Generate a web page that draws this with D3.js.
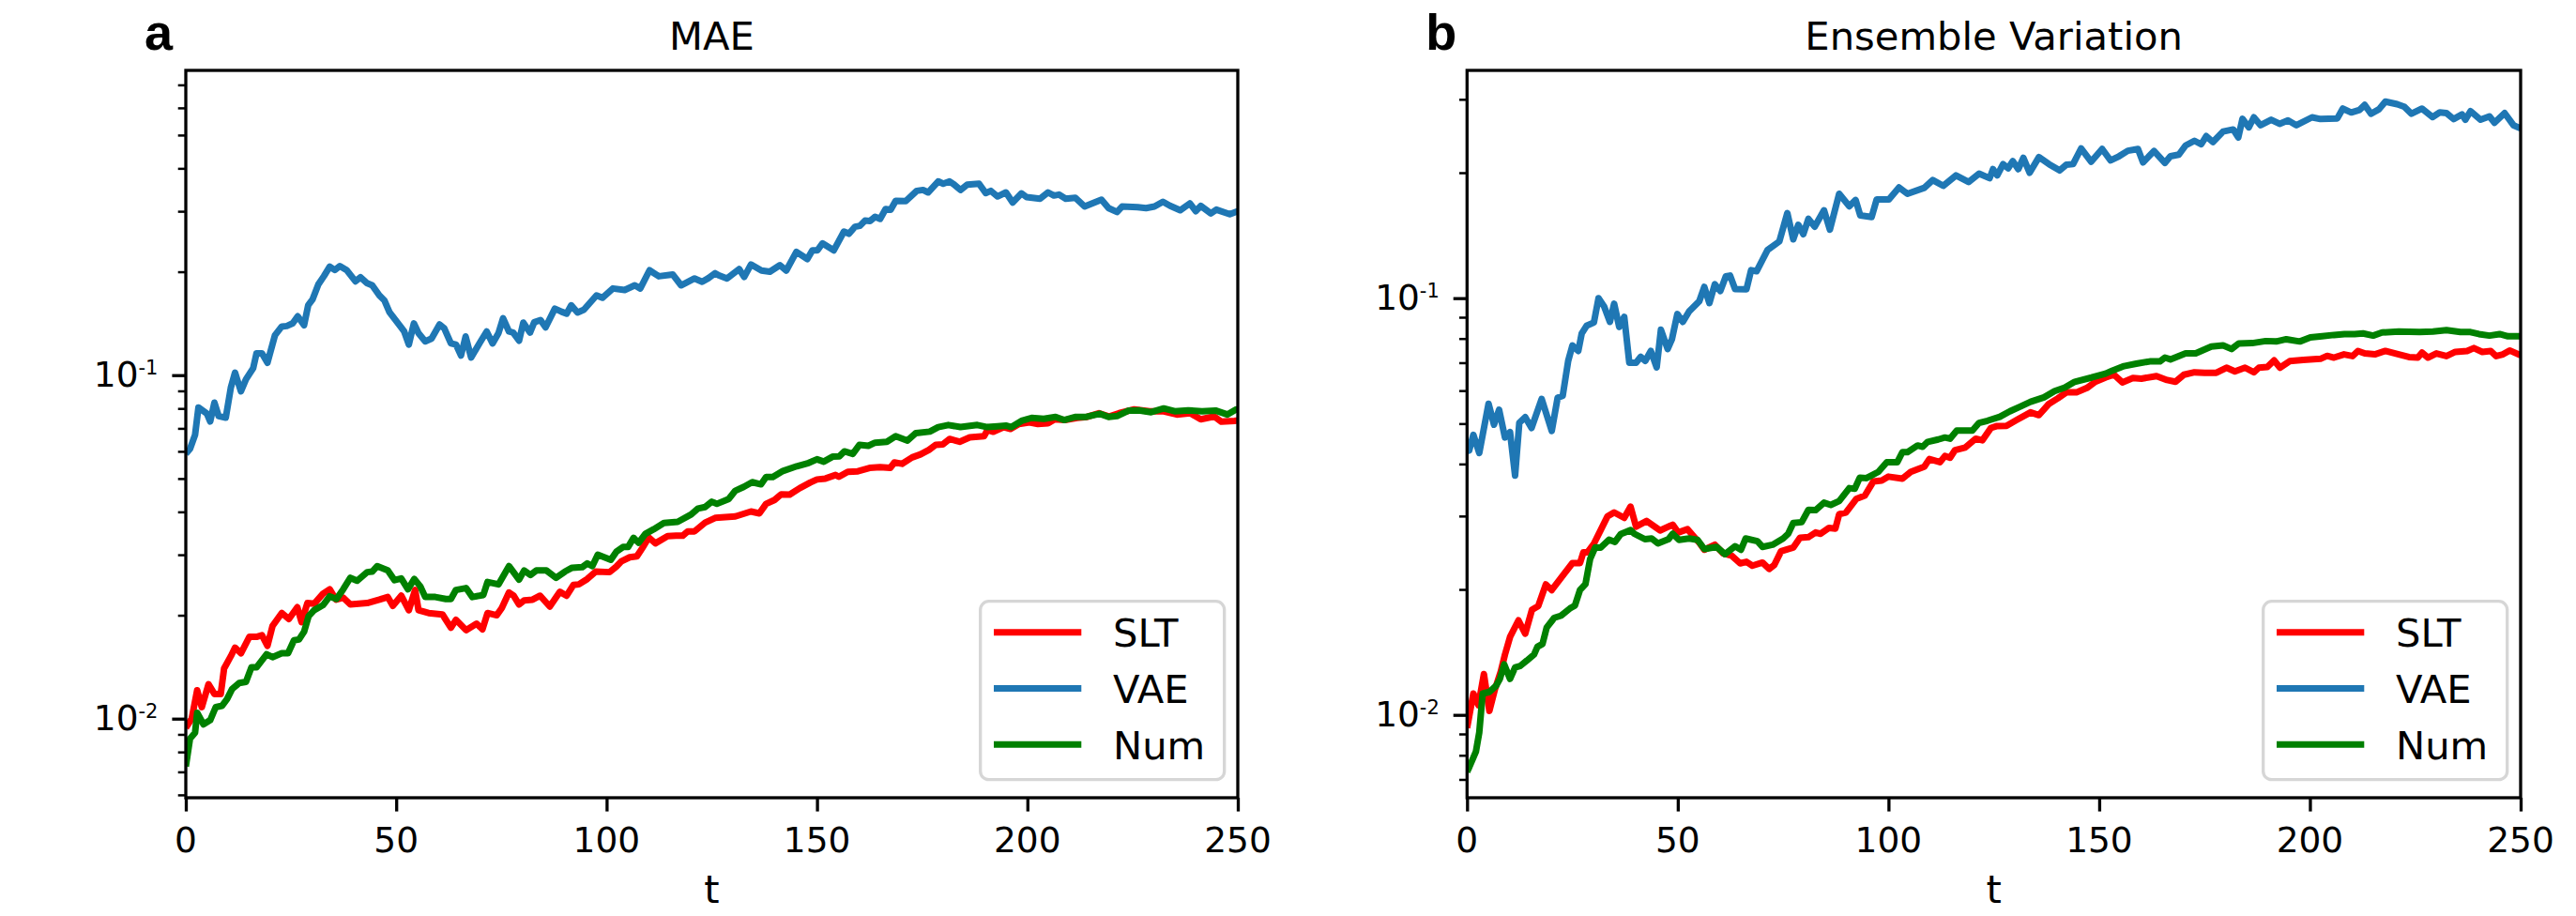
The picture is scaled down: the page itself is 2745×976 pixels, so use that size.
<!DOCTYPE html>
<html>
<head>
<meta charset="utf-8">
<script src="https://cdn.jsdelivr.net/npm/d3@7"></script>
<style>
  html, body { margin: 0; padding: 0; background: #ffffff; }
  svg { display: block; }
</style>
</head>
<body>
<div id="chart"></div>
<script>
// ---------------- DATA ----------------
const seriesNames = ["SLT", "VAE", "Num"];
const seriesColors = ["#ff0000", "#1f77b4", "#008000"];
const panelTitles = ["MAE", "Ensemble Variation"];
const panelLetters = ["a", "b"];
const xTickValues = [0, 50, 100, 150, 200, 250];
const xLabel = "t";

// Panel a: MAE  ([t, value])
const maeSLT = [[0,0.0094],[1.4,0.0100],[2.7,0.0121],[3.8,0.0108],[5.4,0.0126],[6.8,0.0118],[8.3,0.0118],[9.1,0.0140],[10.7,0.0152],[11.7,0.0161],[13.1,0.0155],[15.1,0.0173],[16.8,0.0173],[18.1,0.0175],[19.4,0.0163],[20.6,0.0186],[22.8,0.0203],[24.5,0.0195],[26.5,0.0211],[27.5,0.0191],[28.9,0.0217],[30.5,0.0216],[32.6,0.0231],[34.2,0.0238],[35.7,0.0222],[37.4,0.0225],[39.1,0.0215],[43.1,0.0217],[46,0.0222],[48,0.0226],[49.2,0.0213],[51.2,0.0228],[53,0.0207],[54.5,0.0237],[55.3,0.0207],[57.7,0.0203],[61,0.0201],[63,0.0184],[64.2,0.0194],[66.6,0.0181],[69.1,0.0189],[70.5,0.0182],[71.7,0.0203],[73.9,0.0200],[75.1,0.0210],[76.8,0.0233],[77.9,0.0228],[79.2,0.0215],[80.4,0.0221],[82.4,0.0222],[84.2,0.0228],[86.5,0.0212],[88.9,0.0234],[90.5,0.0228],[92.1,0.0245],[93.4,0.0246],[95.4,0.0255],[97.4,0.0268],[100.7,0.0267],[102.3,0.0277],[103.5,0.0287],[105.5,0.0295],[107.2,0.0297],[108.8,0.0318],[110,0.0337],[111.6,0.0324],[114.5,0.0340],[116.5,0.0341],[118.1,0.0341],[119.3,0.0351],[120.9,0.0351],[123.4,0.0372],[125.8,0.0384],[130.6,0.0388],[134.3,0.0401],[136.3,0.0396],[137.9,0.0422],[139.9,0.0433],[141.5,0.0450],[143.5,0.0449],[145.9,0.0469],[148.4,0.0487],[150,0.0497],[152,0.0500],[154.4,0.0512],[155.2,0.0506],[157.3,0.0523],[159.7,0.0525],[162.5,0.0537],[165,0.0540],[167.4,0.0537],[168.4,0.0557],[170.2,0.0552],[172.6,0.0576],[174.6,0.0588],[176.6,0.0606],[178.2,0.0627],[179.9,0.0629],[181.5,0.0652],[183.9,0.0640],[186.3,0.0659],[189.7,0.0664],[190.5,0.0692],[191.9,0.0684],[194.4,0.0706],[196,0.0697],[198,0.0721],[200.5,0.0729],[202.5,0.0721],[204.9,0.0724],[206.5,0.0744],[208.9,0.0740],[211.8,0.0751],[214.2,0.0756],[217,0.0775],[219.4,0.0758],[221.8,0.0775],[225.4,0.0795],[229,0.0785],[232.2,0.0785],[235.5,0.0768],[238.7,0.0775],[241.2,0.0744],[244.4,0.0758],[246.1,0.0732],[249.2,0.0736],[250,0.0738]];
const maeVAE = [[0,0.0590],[1,0.0610],[2.2,0.0670],[3,0.0805],[5,0.0773],[5.8,0.0733],[6.8,0.0832],[7.8,0.0760],[9.5,0.0752],[10.7,0.0920],[11.7,0.1017],[13.1,0.0897],[14.3,0.0973],[16,0.1047],[16.8,0.1157],[18.1,0.1157],[19.4,0.1087],[21.2,0.1308],[22.8,0.1385],[24,0.1390],[25.4,0.1415],[26.6,0.1484],[28.1,0.1397],[29.1,0.1600],[30.1,0.1660],[31.5,0.1837],[32.8,0.1940],[34.2,0.2070],[35.4,0.2024],[36.6,0.2078],[38.2,0.2024],[40.3,0.1876],[41.5,0.1927],[43.1,0.1852],[44.3,0.1826],[46,0.1707],[47.2,0.1650],[48.4,0.1526],[50.8,0.1397],[51.9,0.1340],[53,0.1228],[54.2,0.1415],[55.3,0.1325],[56.9,0.1254],[58.4,0.1278],[60.3,0.1404],[61.4,0.1370],[63,0.1237],[64.2,0.1228],[65.4,0.1141],[66.5,0.1296],[67.8,0.1126],[69.9,0.1244],[71.5,0.1340],[72.9,0.1237],[74.3,0.1325],[75.4,0.1464],[76.8,0.1340],[77.8,0.1330],[79.2,0.1260],[80.2,0.1422],[81.8,0.1330],[82.8,0.1426],[84.3,0.1447],[85.5,0.1378],[87.7,0.1562],[89.3,0.1530],[90.5,0.1510],[91.6,0.1597],[93.1,0.1522],[94.6,0.1550],[97.6,0.1707],[99,0.1680],[101.5,0.1788],[104.3,0.1770],[106.7,0.1826],[108,0.1788],[110.2,0.2020],[112.4,0.1940],[115.7,0.1964],[117.7,0.1826],[120.9,0.1912],[122.7,0.1870],[124.2,0.1916],[125.8,0.1980],[126.6,0.1953],[128.6,0.1911],[131.5,0.2036],[132.7,0.1932],[134.3,0.2100],[136.8,0.2016],[138.8,0.2000],[141.2,0.2090],[142.7,0.2016],[145.1,0.2286],[147.7,0.2178],[148.9,0.2309],[150.1,0.2309],[151.3,0.2419],[154,0.2309],[156.4,0.2618],[157.6,0.2580],[159,0.2703],[160.2,0.2720],[161.4,0.2818],[162.6,0.2810],[163.8,0.2890],[165,0.2850],[166.3,0.3045],[167.5,0.3030],[168.7,0.3218],[171.1,0.3212],[173.7,0.3440],[175.2,0.3461],[176.4,0.3404],[178.8,0.3665],[180,0.3609],[181.5,0.3665],[182.6,0.3586],[184.1,0.3461],[185.7,0.3586],[188.5,0.3609],[190.1,0.3388],[191.3,0.3440],[192.9,0.3313],[194.9,0.3404],[196.5,0.3182],[198.6,0.3382],[199.8,0.3299],[203,0.3264],[204.9,0.3404],[206.3,0.3334],[207.5,0.3355],[209.1,0.3264],[211.4,0.3285],[213.6,0.3097],[217.6,0.3243],[219.3,0.3064],[221.3,0.2984],[222.5,0.3097],[226.2,0.3083],[228.2,0.3064],[230.2,0.3097],[232.2,0.3197],[233.9,0.3111],[236.3,0.3020],[238.6,0.3162],[240,0.3002],[241.2,0.3111],[243.6,0.2958],[244.9,0.3033],[248.1,0.2940],[250,0.3000]];
const maeNum = [[0,0.00726],[1,0.00875],[2.2,0.0091],[2.7,0.0104],[4.2,0.00963],[5.8,0.0099],[7.1,0.0108],[8.6,0.0109],[9.8,0.0114],[11,0.0122],[12.7,0.0127],[14.3,0.0128],[15.6,0.0141],[16.8,0.0141],[19.2,0.0154],[20.6,0.0151],[22.8,0.0155],[24.3,0.0155],[25.7,0.0169],[26.9,0.0170],[28.1,0.0179],[29.2,0.0199],[30.5,0.0207],[32.6,0.0214],[34.2,0.0227],[35.8,0.0223],[37.4,0.0238],[39.1,0.0257],[40.7,0.0252],[43.1,0.0267],[44.3,0.0268],[45.5,0.0278],[48,0.0270],[49.6,0.0253],[51.2,0.0256],[52.8,0.0238],[54.3,0.0255],[55.7,0.0243],[56.9,0.0226],[59.3,0.0226],[61.8,0.0223],[63,0.0223],[64.2,0.0237],[66.6,0.0240],[68.1,0.0226],[70.7,0.0229],[71.7,0.0250],[74.3,0.0246],[76.8,0.0278],[79.2,0.0254],[80.4,0.0270],[81.9,0.0262],[83.3,0.0270],[85.7,0.0270],[88,0.0257],[90.1,0.0268],[91.8,0.0275],[94.2,0.0276],[95.4,0.0283],[96.6,0.0278],[97.9,0.0300],[101,0.0290],[102.3,0.0306],[103.9,0.0316],[105.1,0.0316],[106.4,0.0336],[107.6,0.0325],[109.2,0.0345],[111.2,0.0356],[113.6,0.0371],[116.9,0.0374],[120.1,0.0393],[121.7,0.0409],[123.4,0.0413],[125,0.0428],[126.2,0.0422],[129,0.0436],[130.6,0.0461],[132.6,0.0473],[134.6,0.0488],[136.7,0.0481],[137.9,0.0505],[139.5,0.0505],[141.9,0.0526],[145.2,0.0543],[148,0.0555],[150,0.0569],[151.6,0.0560],[153.7,0.0579],[155.3,0.0580],[156.5,0.0600],[158.5,0.0590],[160.1,0.0627],[162.2,0.0623],[163.8,0.0636],[166.6,0.0640],[168.7,0.0664],[171.5,0.0645],[173.5,0.0678],[176.8,0.0685],[178.8,0.0706],[181.2,0.0716],[184.1,0.0706],[188.1,0.0716],[190.5,0.0706],[192.9,0.0710],[194.9,0.0713],[196.2,0.0706],[198.6,0.0736],[201,0.0751],[203.9,0.0746],[206.7,0.0756],[208.7,0.0740],[211.5,0.0756],[214,0.0756],[217.2,0.0772],[219.3,0.0756],[221.3,0.0760],[224.1,0.0789],[226.5,0.0790],[229.4,0.0780],[232.4,0.0800],[235,0.0785],[238.2,0.0790],[241.5,0.0785],[244.7,0.0789],[247.5,0.0768],[249.6,0.0795],[250,0.0795]];

// Panel b: Ensemble Variation ([t, value])
const evSLT = [[0,0.0093],[1.5,0.01125],[2.7,0.01055],[4,0.01253],[5.3,0.01022],[6.6,0.0115],[8,0.0127],[9,0.01396],[10.2,0.01538],[12.2,0.01686],[13.8,0.01566],[15.4,0.01787],[16.9,0.01825],[18.7,0.02056],[20.1,0.01993],[22.7,0.02159],[25,0.02313],[26.8,0.02313],[27.6,0.02456],[28.6,0.02456],[30.1,0.02575],[31.7,0.02775],[33.3,0.02992],[34.9,0.0306],[37.3,0.0297],[38.8,0.0316],[40.1,0.0283],[42.6,0.0292],[45.8,0.0277],[48.8,0.0286],[50.1,0.0274],[52.3,0.0279],[55.1,0.0259],[56.3,0.0249],[58.8,0.0256],[60.8,0.0244],[62.8,0.0241],[64.8,0.0231],[66.3,0.0233],[67.7,0.0228],[70.1,0.0232],[71.7,0.0224],[72.9,0.0229],[74.5,0.0247],[77.4,0.0252],[79,0.0266],[81,0.0267],[82.7,0.0274],[83.9,0.0272],[85.9,0.0281],[87.4,0.0280],[88.3,0.0303],[89.9,0.0306],[92.4,0.0330],[94.4,0.0336],[96.4,0.0363],[98.4,0.0365],[100,0.0373],[103.3,0.0369],[105.3,0.0383],[108.5,0.0394],[109.7,0.0411],[112.2,0.0404],[113.4,0.0418],[114.6,0.0414],[115.8,0.0432],[118.2,0.0438],[120.7,0.0460],[122.3,0.0456],[124.3,0.0488],[125.6,0.0493],[128,0.0494],[130.4,0.0510],[133.7,0.0532],[135.7,0.0524],[138.1,0.0558],[140.2,0.0575],[142.2,0.0594],[144.6,0.0594],[147.1,0.0609],[149.1,0.0630],[151.5,0.0645],[153.5,0.0655],[155.5,0.0628],[158,0.0643],[160,0.0641],[163.6,0.0650],[166.1,0.0636],[168.1,0.0630],[170.1,0.0655],[172.6,0.0664],[175,0.0662],[177.8,0.0662],[180.2,0.0681],[182.2,0.0667],[184.6,0.0681],[186.7,0.0664],[187.9,0.0681],[189.9,0.0684],[191.5,0.0709],[192.9,0.0681],[195.2,0.0706],[198.4,0.0711],[202.5,0.0715],[204.1,0.0727],[205.7,0.0720],[208.1,0.0733],[210.1,0.0726],[211.4,0.0747],[213,0.0737],[215.4,0.0733],[217.9,0.0747],[221.1,0.0733],[223.5,0.0722],[225.6,0.0720],[226.6,0.0740],[228,0.0720],[230,0.0737],[232.4,0.0726],[234.5,0.0743],[237.3,0.0747],[238.9,0.0759],[240.9,0.0743],[242.9,0.0747],[244.2,0.0726],[245.8,0.0733],[247.4,0.0749],[250,0.0729]];
const evVAE = [[0,0.0440],[0.5,0.0431],[1.5,0.0470],[2.9,0.0425],[5.1,0.0558],[6.4,0.0497],[7.6,0.0540],[9,0.0463],[10.2,0.0477],[11.4,0.0375],[12.4,0.0502],[13.8,0.0518],[15.3,0.0488],[17.7,0.0573],[20.1,0.0480],[21.5,0.0577],[22.7,0.0583],[24,0.0707],[25,0.0770],[26.4,0.0747],[27.2,0.0822],[28.4,0.0859],[30.1,0.0874],[31.2,0.1000],[32.5,0.0956],[33.9,0.0877],[34.9,0.0970],[36.1,0.0853],[37.3,0.0902],[38.5,0.0700],[40.1,0.0700],[41.2,0.0723],[42.3,0.0707],[43.6,0.0747],[45,0.0682],[46,0.0840],[47.6,0.0755],[48.6,0.0796],[49.9,0.0916],[51.2,0.0877],[52.7,0.0930],[55.1,0.0983],[56.3,0.1064],[57.5,0.0973],[58.8,0.1080],[60.1,0.1040],[61.4,0.1128],[62.4,0.1133],[63.6,0.1052],[66.3,0.1050],[67.4,0.1167],[68.7,0.1160],[71.3,0.1305],[74.1,0.1368],[76,0.1600],[77.4,0.1384],[78.6,0.1500],[79.8,0.1424],[81,0.1550],[82.5,0.1485],[84.7,0.1625],[86.1,0.1460],[88.3,0.1780],[90.7,0.1662],[92.2,0.1720],[93.3,0.1580],[96,0.1566],[97.2,0.1725],[100.1,0.1725],[102.5,0.1843],[104.5,0.1780],[108.5,0.1840],[110.5,0.1920],[113,0.1860],[116,0.1970],[119,0.1900],[121.5,0.1990],[124,0.1940],[124.8,0.2040],[125.8,0.1970],[127.2,0.2097],[128.4,0.2050],[129.5,0.2133],[130.8,0.2040],[132,0.2171],[133.5,0.2000],[135.7,0.2180],[138.1,0.2097],[140.6,0.2025],[142.2,0.2090],[143.8,0.2097],[145.7,0.2286],[148.1,0.2125],[150.7,0.2280],[152.7,0.2140],[154.7,0.2190],[156.8,0.2258],[159.2,0.2280],[160.4,0.2117],[163,0.2255],[165.6,0.2111],[166.9,0.2190],[168.9,0.2210],[170.5,0.2325],[172.6,0.2386],[174.2,0.2340],[175.4,0.2448],[177,0.2370],[179.4,0.2512],[181.8,0.2540],[183,0.2430],[184,0.2693],[185.5,0.2570],[186.7,0.2716],[188.3,0.2600],[190.8,0.2680],[192.8,0.2620],[194.8,0.2670],[196.8,0.2600],[200.5,0.2716],[202.5,0.2690],[206.5,0.2700],[207.8,0.2850],[209.8,0.2790],[211.8,0.2830],[213,0.2910],[214.5,0.2770],[216.4,0.2840],[217.9,0.2963],[220.7,0.2920],[222.4,0.2880],[224.1,0.2770],[226.6,0.2850],[229.1,0.2720],[230.8,0.2790],[232.4,0.2780],[234.1,0.2690],[236.1,0.2760],[236.9,0.2680],[238.1,0.2810],[240.5,0.2680],[242.6,0.2730],[243.8,0.2636],[246.2,0.2780],[248.3,0.2600],[250,0.2556]];
const evNum = [[0,0.0073],[0.5,0.00748],[2.1,0.00816],[2.9,0.00908],[3.7,0.01125],[5.3,0.01135],[6.9,0.01175],[7.8,0.0122],[8.8,0.01322],[10.2,0.0122],[11.4,0.0130],[12.6,0.0131],[14.2,0.0135],[15.9,0.01396],[16.7,0.01457],[17.9,0.0148],[18.9,0.0162],[20.7,0.0171],[22.3,0.0173],[24.4,0.0180],[25.6,0.0183],[26.8,0.01993],[28.1,0.0206],[29.2,0.02366],[30.4,0.02522],[31.7,0.0252],[33.7,0.02633],[35.1,0.0260],[36.5,0.02717],[38.8,0.02775],[39.7,0.0272],[42.2,0.0264],[43.8,0.0265],[45.3,0.0258],[47.8,0.0264],[48.8,0.0272],[50.3,0.0263],[52.7,0.0265],[54.7,0.0263],[56.3,0.0250],[59.2,0.0253],[61.2,0.0243],[63.6,0.0254],[65,0.0249],[66.1,0.0265],[68.9,0.0261],[70.1,0.0253],[72.5,0.0256],[75,0.0265],[76.2,0.0272],[77.4,0.02886],[79.4,0.0290],[81,0.03104],[82.7,0.0310],[84.7,0.0323],[86.3,0.0319],[88.3,0.0326],[90.7,0.0350],[92,0.0349],[93.2,0.0371],[94.8,0.0370],[97.6,0.0383],[99.6,0.0404],[102.1,0.0404],[103.3,0.0427],[104.5,0.0427],[106.9,0.0443],[108.1,0.0440],[109.3,0.0452],[111.8,0.0458],[113.4,0.0463],[114.6,0.0460],[116.2,0.0481],[119.9,0.0481],[121.5,0.0502],[123.5,0.0508],[126.4,0.0519],[128.8,0.0535],[131.2,0.0549],[133.7,0.0564],[136.9,0.0578],[139.4,0.0598],[141.8,0.0610],[144.2,0.0630],[148.2,0.0645],[151.5,0.0659],[153.1,0.0670],[155.9,0.0687],[158.8,0.0696],[162,0.0705],[164.4,0.0705],[165.6,0.0720],[166.9,0.0713],[170.5,0.0737],[172.9,0.0737],[176.6,0.0765],[179.4,0.0770],[181.4,0.0755],[183.1,0.0778],[186.3,0.0780],[189.5,0.0789],[192,0.0787],[194.4,0.0797],[197.6,0.0787],[200.1,0.0805],[202.9,0.0810],[205.7,0.0816],[208.2,0.0820],[210.6,0.0820],[212.6,0.0823],[215,0.0813],[217.1,0.0827],[221.1,0.0832],[226,0.0829],[229.2,0.0832],[232.4,0.0838],[235.7,0.0829],[238.1,0.0829],[240.1,0.0820],[242.6,0.0813],[245,0.0820],[247,0.0810],[250,0.0810]];

// Axis ranges
const xDomain = [0, 250];
const yDomainA = [0.005885, 0.7713];
const yDomainB = [0.006326, 0.352];
const yMajorTicks = [0.01, 0.1];
const yMajorLabels = [["10", "-2"], ["10", "-1"]];

// ---------------- LAYOUT ----------------
const W = 2745, H = 976;
const FONT = "'DejaVu Sans', 'Liberation Sans', sans-serif";
const LINE_W = 7;
const panels = [
  { left: 198, right: 1319, top: 75, bottom: 850, yDomain: yDomainA, series: [maeSLT, maeVAE, maeNum] },
  { left: 1563.3, right: 2686, top: 75, bottom: 850, yDomain: yDomainB, series: [evSLT, evVAE, evNum] }
];

const svg = d3.select("#chart").append("svg")
  .attr("width", W).attr("height", H)
  .attr("viewBox", `0 0 ${W} ${H}`)
  .style("background", "#fff");

panels.forEach((p, pi) => {
  const x = d3.scaleLinear().domain(xDomain).range([p.left, p.right]);
  const y = d3.scaleLog().domain(p.yDomain).range([p.bottom, p.top]);
  const g = svg.append("g");

  const clipId = "clip" + pi;
  svg.append("clipPath").attr("id", clipId)
    .append("rect").attr("x", p.left).attr("y", p.top)
    .attr("width", p.right - p.left).attr("height", p.bottom - p.top);

  // lines
  const line = d3.line().x(d => x(d[0])).y(d => y(d[1]));
  const lg = g.append("g").attr("clip-path", `url(#${clipId})`);
  p.series.forEach((s, si) => {
    lg.append("path").datum(s)
      .attr("d", line)
      .attr("fill", "none")
      .attr("stroke", seriesColors[si])
      .attr("stroke-width", LINE_W)
      .attr("stroke-linejoin", "round")
      .attr("stroke-linecap", "butt");
  });

  // minor y ticks
  const minors = [];
  for (let e = -3; e <= 0; e++) {
    for (let k = 2; k <= 9; k++) {
      const v = k * Math.pow(10, e);
      if (v >= p.yDomain[0] && v <= p.yDomain[1]) minors.push(v);
    }
  }
  const yMinorAxis = g.append("g").attr("transform", `translate(${p.left},0)`)
    .call(d3.axisLeft(y).tickValues(minors).tickSize(8.3).tickFormat(""));
  yMinorAxis.select(".domain").remove();
  yMinorAxis.selectAll(".tick line").attr("stroke", "#000").attr("stroke-width", 2.5);

  // major y ticks
  const yMajorAxis = g.append("g").attr("transform", `translate(${p.left},0)`)
    .call(d3.axisLeft(y).tickValues(yMajorTicks).tickSize(14.6).tickFormat(""));
  yMajorAxis.select(".domain").remove();
  yMajorAxis.selectAll(".tick line").attr("stroke", "#000").attr("stroke-width", 3.3);

  // y labels with superscript
  yMajorTicks.forEach((v, i) => {
    const t = g.append("text")
      .attr("x", p.left - 29.5)
      .attr("y", y(v) + 12.5)
      .attr("text-anchor", "end")
      .attr("font-family", FONT)
      .attr("font-size", 37.5)
      .attr("fill", "#000");
    t.append("tspan").text(yMajorLabels[i][0]);
    t.append("tspan").attr("font-size", 21).attr("dy", -13).text(yMajorLabels[i][1]);
  });

  // x ticks
  const xAxis = g.append("g").attr("transform", `translate(0,${p.bottom})`)
    .call(d3.axisBottom(x).tickValues(xTickValues).tickSize(14.6).tickFormat(""));
  xAxis.select(".domain").remove();
  xAxis.selectAll(".tick line").attr("stroke", "#000").attr("stroke-width", 3.3);
  xTickValues.forEach(v => {
    g.append("text")
      .attr("x", x(v)).attr("y", 908)
      .attr("text-anchor", "middle")
      .attr("font-family", FONT).attr("font-size", 37.5)
      .attr("fill", "#000")
      .text(d3.format("d")(v));
  });

  // spines
  g.append("rect")
    .attr("x", p.left).attr("y", p.top)
    .attr("width", p.right - p.left).attr("height", p.bottom - p.top)
    .attr("fill", "none").attr("stroke", "#000").attr("stroke-width", 3.3);

  // title
  g.append("text")
    .attr("x", (p.left + p.right) / 2).attr("y", 52.5)
    .attr("text-anchor", "middle")
    .attr("font-family", FONT).attr("font-size", 41.7)
    .attr("fill", "#000")
    .text(panelTitles[pi]);

  // x label
  g.append("text")
    .attr("x", (p.left + p.right) / 2).attr("y", 962)
    .attr("text-anchor", "middle")
    .attr("font-family", FONT).attr("font-size", 41.7)
    .attr("fill", "#000")
    .text(xLabel);

  // panel letter
  g.append("text")
    .attr("x", p.left - 44).attr("y", 53)
    .attr("text-anchor", "start")
    .attr("font-family", "'Liberation Sans', Arial, Helvetica, sans-serif")
    .attr("font-weight", "bold")
    .attr("font-size", 54)
    .attr("fill", "#000")
    .text(panelLetters[pi]);

  // legend
  const lw = 260, lh = 190;
  const lx = p.right - 14.3 - lw, ly = p.bottom - 19.3 - lh;
  const leg = g.append("g");
  leg.append("rect")
    .attr("x", lx).attr("y", ly).attr("width", lw).attr("height", lh)
    .attr("rx", 9).attr("ry", 9)
    .attr("fill", "#ffffff").attr("fill-opacity", 0.8)
    .attr("stroke", "#d6d6d6").attr("stroke-width", 3.3);
  seriesNames.forEach((name, si) => {
    const ry = ly + 33 + si * 59.8;
    leg.append("line")
      .attr("x1", lx + 14.3).attr("x2", lx + 107.6)
      .attr("y1", ry).attr("y2", ry)
      .attr("stroke", seriesColors[si]).attr("stroke-width", LINE_W);
    leg.append("text")
      .attr("x", lx + 141.3).attr("y", ry + 15.2)
      .attr("font-family", FONT).attr("font-size", 41.7)
      .attr("fill", "#000")
      .text(name);
  });
});
</script>
</body>
</html>
